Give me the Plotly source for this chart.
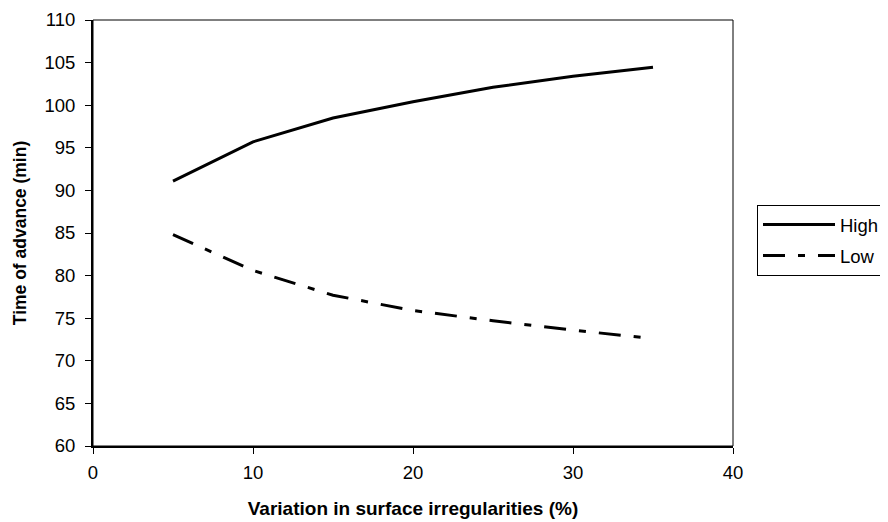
import plotly.graph_objects as go

x_vals = [5, 10, 15, 20, 25, 30, 35]
high = [91.1, 95.7, 98.5, 100.4, 102.1, 103.4, 104.45]
low = [84.8, 80.6, 77.7, 75.9, 74.7, 73.6, 72.6]
x_ticks = [0, 10, 20, 30, 40]
y_ticks = [60, 65, 70, 75, 80, 85, 90, 95, 100, 105, 110]

font_family = "Liberation Sans, Arial, sans-serif"

fig = go.Figure()
fig.add_trace(go.Scatter(x=x_vals, y=high, mode="lines", name="High", legendgroup="a",
                         line=dict(color="black", width=3)))
fig.add_trace(go.Scatter(x=x_vals, y=low, mode="lines", name="Low", legendgroup="b",
                         line=dict(color="black", width=3, dash="22px,13px,7px,13px")))

fig.update_layout(
    width=888, height=522,
    margin=dict(l=85, r=163, t=12, b=84, autoexpand=False),
    paper_bgcolor="white", plot_bgcolor="white",
    font=dict(family=font_family, size=17, color="black"),
    showlegend=True,
    legend=dict(x=1.0375, y=0.5657, xanchor="left", yanchor="top",
                bordercolor="black", borderwidth=1, bgcolor="white",
                font=dict(size=18.5), itemwidth=72, tracegroupgap=4,
                traceorder="grouped"),
    xaxis=dict(range=[0, 40], tickvals=x_ticks, showgrid=False, zeroline=False,
               showline=True, linecolor="black", linewidth=2, automargin=False,
               ticks="outside", ticklen=6, tickwidth=1, tickcolor="black",
               ticklabelstandoff=3, tickfont=dict(size=18.5),
               title=dict(text="<b>Variation in surface irregularities (%)</b>",
                          font=dict(size=19), standoff=19)),
    yaxis=dict(range=[60, 110], tickvals=y_ticks, showgrid=False, zeroline=False,
               showline=True, linecolor="black", linewidth=2, automargin=False,
               ticks="outside", ticklen=6, tickwidth=1, tickcolor="black",
               ticklabelstandoff=6, tickfont=dict(size=18.5),
               title=dict(text="<b>Time of advance (min)</b>",
                          font=dict(size=17.5), standoff=13)),
    shapes=[dict(type="rect", xref="paper", yref="paper", x0=0, y0=0, x1=1, y1=1,
                 line=dict(color="black", width=1), layer="above")],
)

fig.write_html("out.html")
